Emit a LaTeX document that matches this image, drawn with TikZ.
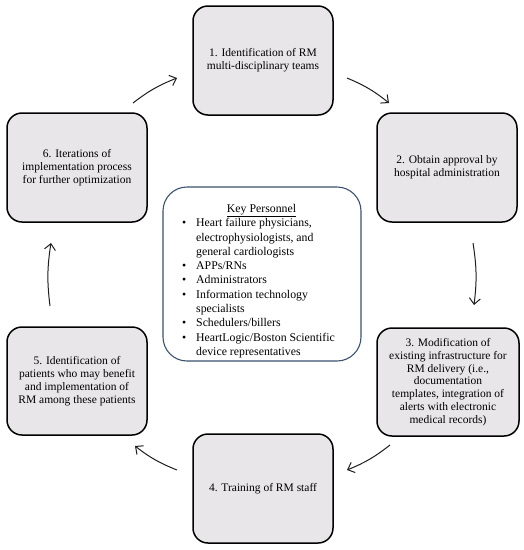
\documentclass[tikz,border=0pt]{standalone}
\usepackage{fontspec}
\setmainfont{Liberation Serif}
\usetikzlibrary{arrows.meta}
\definecolor{boxfill}{RGB}{233,230,233}
\definecolor{kpborder}{RGB}{58,82,110}
\definecolor{arrowcol}{RGB}{30,30,30}
\begin{document}
\begin{tikzpicture}[x=1pt,y=-1pt,
  stepbox/.style={draw=black, line width=1.5pt, fill=boxfill, rounded corners=15pt,
    minimum width=140pt, minimum height=109pt, inner sep=0pt, align=center,
    font=\fontsize{11.5}{12.8}\selectfont},
  kpbox/.style={draw=kpborder, line width=1.1pt, fill=white, rounded corners=24pt,
    minimum width=198pt, minimum height=174pt, inner sep=0pt},
  kptext/.style={inner sep=0pt, align=left, font=\fontsize{11.8}{14.3}\selectfont},
  flow/.style={draw=arrowcol, -{Straight Barb[length=6pt,width=11pt]}, line width=1pt, bend left=8}]
\useasboundingbox (0,0) rectangle (524,550);
\fill[white] (0,0) rectangle (524,550);

\node[stepbox] (b1) at (263,60.5) {1. Identification of RM\\multi-disciplinary teams};
\node[stepbox] (b2) at (447,167.5) {2. Obtain approval by\\hospital administration};
\node[stepbox, minimum width=142pt, minimum height=108pt] (b3) at (448,382)
  {3. Modification of\\existing infrastructure for\\RM delivery (i.e.,\\documentation\\templates, integration of\\alerts with electronic\\medical records)};
\node[stepbox] (b4) at (263,488.5) {4. Training of RM staff};
\node[stepbox, minimum height=108pt] (b5) at (77,381) {5. Identification of\\patients who may benefit\\and implementation of\\RM among these patients};
\node[stepbox] (b6) at (77,167.5) {6. Iterations of\\implementation process\\for further optimization};

\node[kpbox] (kp) at (262,274) {};
\node[kptext, anchor=west] (kpt) at (182,281) {%
\begin{tabular}{@{}p{14pt}@{}l@{}}
\multicolumn{2}{@{}c@{}}{\hspace*{6pt}\underline{Key Personnel}}\\
\textbullet & Heart failure physicians,\\
 & electrophysiologists, and\\
 & general cardiologists\\
\textbullet & APPs/RNs\\
\textbullet & Administrators\\
\textbullet & Information technology\\
 & specialists\\
\textbullet & Schedulers/billers\\
\textbullet & HeartLogic/Boston Scientific\\
 & device representatives
\end{tabular}};

\coordinate (a12s) at (347,78);  \coordinate (a12e) at (389,103);
\coordinate (a23s) at (473,243); \coordinate (a23e) at (474,305);
\coordinate (a34s) at (390,445); \coordinate (a34e) at (347,470);
\coordinate (a45s) at (177,470); \coordinate (a45e) at (135,446);
\coordinate (a56s) at (50,306);  \coordinate (a56e) at (51,243);
\coordinate (a61s) at (133,103); \coordinate (a61e) at (177,78);

\draw[flow] (a12s) to (a12e);
\draw[flow] (a23s) to (a23e);
\draw[flow] (a34s) to (a34e);
\draw[flow] (a45s) to (a45e);
\draw[flow] (a56s) to (a56e);
\draw[flow] (a61s) to (a61e);
\end{tikzpicture}
\end{document}
